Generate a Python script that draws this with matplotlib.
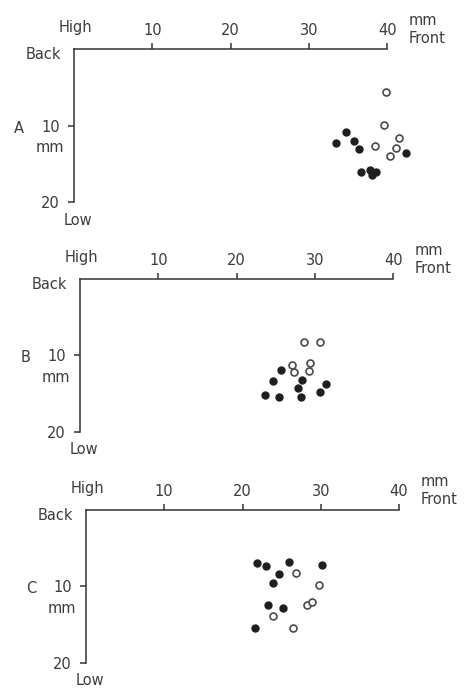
import matplotlib
matplotlib.use('Agg')
import matplotlib.pyplot as plt

# panel labels and axis ticks
panels = ['A', 'B', 'C']
x_ticks = [10, 20, 30, 40]
y_ticks = [10, 20]

# positions in mm (x: back -> front, y: high -> low)
A_open_x = [39.8, 39.6, 41.5, 38.4, 41.1, 40.4]
A_open_y = [5.6, 9.9, 11.6, 12.6, 12.9, 14.0]
A_fill_x = [34.7, 33.5, 35.7, 36.4, 42.4, 36.7, 37.8, 38.0, 38.6]
A_fill_y = [10.8, 12.2, 12.0, 13.1, 13.5, 16.0, 15.8, 16.4, 16.0]

B_open_x = [28.6, 30.7, 27.1, 27.3, 29.4, 29.2]
B_open_y = [8.3, 8.3, 11.2, 12.2, 11.0, 12.0]
B_fill_x = [25.7, 24.6, 28.3, 27.8, 31.4, 30.7, 23.6, 25.4, 28.2]
B_fill_y = [11.9, 13.4, 13.2, 14.3, 13.7, 14.8, 15.2, 15.4, 15.5]

C_open_x = [26.8, 29.8, 28.3, 28.9, 23.9, 26.4]
C_open_y = [8.3, 9.8, 12.4, 12.0, 13.9, 15.4]
C_fill_x = [21.9, 23.0, 26.0, 30.1, 24.7, 23.9, 23.2, 25.2, 21.6]
C_fill_y = [6.9, 7.4, 6.8, 7.2, 8.4, 9.5, 12.4, 12.9, 15.5]

data = {
    'A': (A_open_x, A_open_y, A_fill_x, A_fill_y),
    'B': (B_open_x, B_open_y, B_fill_x, B_fill_y),
    'C': (C_open_x, C_open_y, C_fill_x, C_fill_y),
}

# layout: pixel position of the origin and pixels per mm
W, H = 467, 691
layout = {
    'A': (74, 49, 7.83, 7.67),
    'B': (80, 279, 7.83, 7.635),
    'C': (86, 510, 7.825, 7.635),
}
XMAX, YMAX = 50, 21

ink = '#333333'
txt = '#3c3c3c'
fs = 10.5

fig = plt.figure(figsize=(W / 100, H / 100), dpi=100)

for p in panels:
    x0, y0, sx, sy = layout[p]
    ax = fig.add_axes([x0 / W, 1 - (y0 + sy * YMAX) / H,
                       sx * XMAX / W, sy * YMAX / H])
    ax.set_xlim(0, XMAX)
    ax.set_ylim(YMAX, 0)
    ax.patch.set_visible(False)

    for s in ['right', 'bottom']:
        ax.spines[s].set_visible(False)
    ax.spines['top'].set_bounds(0, 40)
    ax.spines['left'].set_bounds(0, 20)
    for s in ['top', 'left']:
        ax.spines[s].set_color(ink)
        ax.spines[s].set_linewidth(1.1)

    ax.xaxis.tick_top()
    ax.set_xticks(x_ticks)
    ax.set_xticklabels([str(t) for t in x_ticks])
    ax.set_yticks(y_ticks)
    ax.set_yticklabels([str(t) for t in y_ticks])
    ax.tick_params(axis='both', direction='out', length=4, width=1.1,
                   color=ink, labelcolor=txt, labelsize=fs)
    ax.tick_params(axis='x', pad=4)
    ax.tick_params(axis='y', pad=6)

    ox, oy, fx, fy = data[p]
    ax.plot(fx, fy, 'o', ms=5, color='#1e1e1e', mec='#1e1e1e', clip_on=False)
    ax.plot(ox, oy, 'o', ms=5, mfc='white', mec='#4a4a4a', mew=1.2,
            clip_on=False)

    kw = dict(fontsize=fs, color=txt, va='center')
    ax.text(0.2, -2.8, 'High', ha='center', **kw)
    ax.text(42.8, -3.7, 'mm', ha='left', **kw)
    ax.text(42.8, -1.4, 'Front', ha='left', **kw)
    ax.text(-1.7, 0.7, 'Back', ha='right', **kw)
    ax.text(-7.0, 10.3, p, ha='center', **kw)
    ax.text(-1.3, 12.9, 'mm', ha='right', **kw)
    ax.text(0.5, 22.3, 'Low', ha='center', **kw)

plt.savefig('out.png', dpi=100, facecolor='white')
